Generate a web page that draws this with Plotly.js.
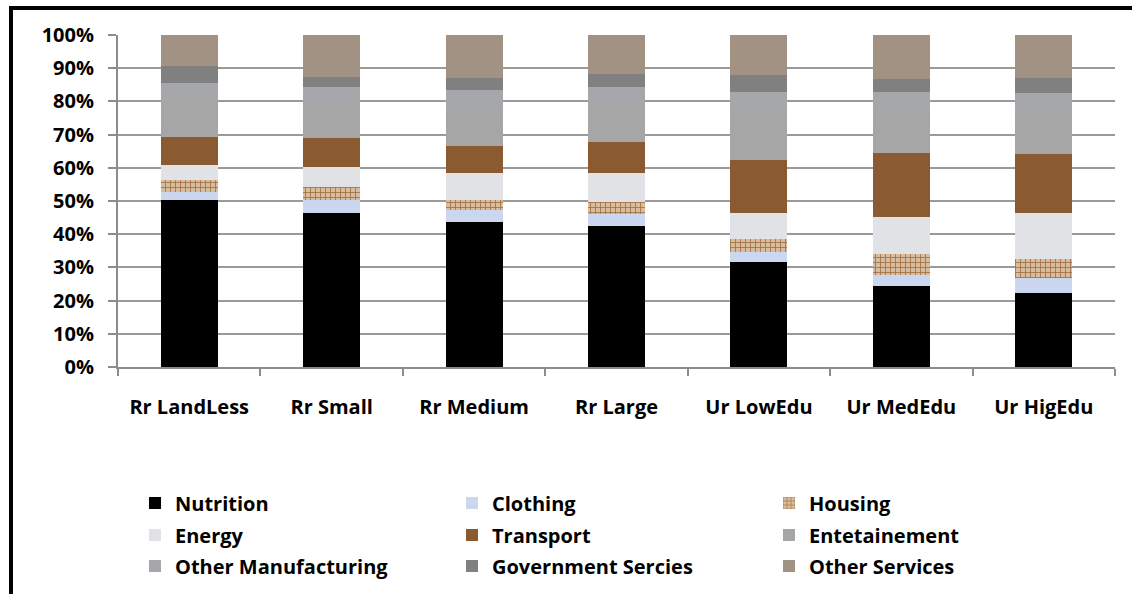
<!DOCTYPE html>
<html>
<head>
<meta charset="utf-8">
<script src="https://cdn.plot.ly/plotly-3.0.1.min.js"></script>
<style>
  html, body { margin: 0; padding: 0; background: #ffffff; }
  #chart { width: 1132px; height: 594px; }
</style>
</head>
<body>
<div id="chart"></div>
<script>
const categories = ["Rr LandLess", "Rr Small", "Rr Medium", "Rr Large", "Ur LowEdu", "Ur MedEdu", "Ur HigEdu"];

const nutrition     = [50.3, 46.4, 43.7, 42.4, 31.7, 24.4, 22.3];
const clothing      = [2.5, 3.9, 3.5, 3.8, 2.8, 3.2, 4.5];
const housing       = [3.5, 4.0, 3.1, 3.5, 4.0, 6.4, 5.7];
const energy        = [4.5, 6.0, 8.0, 8.8, 7.9, 11.2, 13.9];
const transport     = [8.5, 8.8, 8.2, 9.3, 15.9, 19.4, 17.7];
const entetainement = [11.1, 9.5, 11.2, 11.1, 15.1, 13.1, 13.3];
const otherManuf    = [5.2, 5.6, 5.7, 5.5, 5.3, 5.0, 5.2];
const government    = [5.1, 3.2, 3.7, 3.8, 5.3, 4.0, 4.4];
const otherServices = [9.3, 12.6, 12.9, 11.8, 12.0, 13.3, 13.0];

const yTickVals = [0, 10, 20, 30, 40, 50, 60, 70, 80, 90, 100];

const FONT = "'Open Sans', 'Noto Sans', sans-serif";

const series = [
  {name: "Nutrition", y: nutrition, color: "#000000", legend: "legend"},
  {name: "Clothing", y: clothing, color: "#cad7ee", legend: "legend"},
  {name: "Housing", y: housing, color: "#d5b797", legend: "legend",
   pattern: {shape: "+", fgcolor: "#a06e42", bgcolor: "#d8bc9e", size: 5, solidity: 0.3}},
  {name: "Energy", y: energy, color: "#e1e2e6", legend: "legend2"},
  {name: "Transport", y: transport, color: "#8a5a30", legend: "legend2"},
  {name: "Entetainement", y: entetainement, color: "#a6a6a6", legend: "legend2"},
  {name: "Other Manufacturing", y: otherManuf, color: "#a6a7ab", legend: "legend3"},
  {name: "Government Sercies", y: government, color: "#808080", legend: "legend3"},
  {name: "Other Services", y: otherServices, color: "#a29283", legend: "legend3"}
];

const traces = series.map(s => {
  const marker = {color: s.color, line: {width: 0}};
  if (s.pattern) marker.pattern = s.pattern;
  return {
    type: "bar",
    name: s.name,
    x: categories,
    y: s.y,
    marker: marker,
    legend: s.legend,
    hoverinfo: "name+y"
  };
});

const plotL = 118, plotR = 1115, plotT = 35, plotB = 367;
const W = 1132, H = 594;
const pw = plotR - plotL, ph = plotB - plotT;
const px = v => (v - plotL) / pw;
const py = v => (plotB - v) / ph;

const legendFont = {family: FONT, size: 20, color: "#000000", weight: "bold"};
const legendBase = {
  orientation: "h",
  xref: "container", yref: "container",
  x: 135 / W, xanchor: "left",
  yanchor: "middle",
  entrywidth: 272, entrywidthmode: "pixels",
  font: legendFont,
  bgcolor: "rgba(0,0,0,0)",
  traceorder: "normal",
  itemclick: false, itemdoubleclick: false
};

const layout = {
  width: W, height: H,
  margin: {l: plotL, r: W - plotR, t: plotT, b: H - plotB, autoexpand: false},
  paper_bgcolor: "#ffffff",
  plot_bgcolor: "#ffffff",
  barmode: "stack",
  bargap: 0.6,
  showlegend: true,
  font: {family: FONT, color: "#000000"},
  xaxis: {
    type: "category",
    showline: true, linecolor: "#8c8c8c", linewidth: 2,
    ticks: "outside", tickson: "boundaries", ticklen: 7, tickcolor: "#8c8c8c", tickwidth: 2,
    showgrid: false,
    tickfont: {family: FONT, size: 20, color: "#000000", weight: "bold"},
    ticklabelstandoff: 21,
    automargin: false,
    fixedrange: true
  },
  yaxis: {
    range: [0, 100],
    tickvals: yTickVals,
    ticktext: yTickVals.map(v => v + "%"),
    showline: true, linecolor: "#8c8c8c", linewidth: 2,
    ticks: "outside", ticklen: 8, tickcolor: "#8c8c8c", tickwidth: 2,
    showgrid: true, gridcolor: "#9a9a9a", gridwidth: 2,
    zeroline: false,
    tickfont: {family: FONT, size: 20, color: "#000000", weight: "bold"},
    ticklabelstandoff: 10,
    automargin: false,
    fixedrange: true
  },
  legend:  Object.assign({}, legendBase, {y: 1 - 503 / H}),
  legend2: Object.assign({}, legendBase, {y: 1 - 535 / H}),
  legend3: Object.assign({}, legendBase, {y: 1 - 566 / H}),
  shapes: [
    {type: "line", xref: "paper", yref: "paper",
     x0: px(11), x1: px(11), y0: py(7), y1: py(600),
     line: {color: "#000000", width: 4}},
    {type: "line", xref: "paper", yref: "paper",
     x0: px(9), x1: px(1140), y0: py(8), y1: py(8),
     line: {color: "#000000", width: 4}}
  ]
};

Plotly.newPlot("chart", traces, layout, {displayModeBar: false, staticPlot: false});
</script>
</body>
</html>
